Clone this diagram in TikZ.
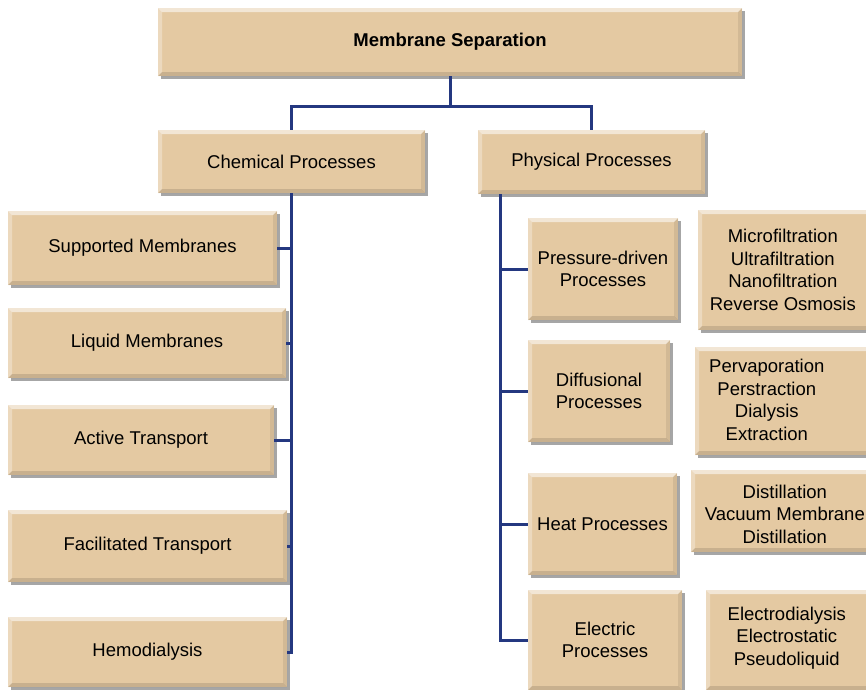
\documentclass[tikz,border=0pt]{standalone}
\usepackage{fontspec}
\setmainfont{Liberation Sans}
\usetikzlibrary{shadows}
\definecolor{Tan}{RGB}{228, 201, 162}
\definecolor{Navy}{RGB}{36, 56, 128}

\begin{document}
\begin{tikzpicture}[x=1pt, y=-1pt,
    box/.style={rectangle, fill=Tan, inner sep=2pt, align=center,
        drop shadow={shadow xshift=2.5pt, shadow yshift=-2.5pt, opacity=.35, fill=black},
        path picture={
            \fill[white, opacity=.55] (path picture bounding box.north west) -- (path picture bounding box.north east)
                -- ([xshift=-4pt, yshift=-4pt]path picture bounding box.north east) -- ([xshift=4pt, yshift=-4pt]path picture bounding box.north west) -- cycle;
            \fill[white, opacity=.3] (path picture bounding box.north west) -- (path picture bounding box.south west)
                -- ([xshift=4pt, yshift=4pt]path picture bounding box.south west) -- ([xshift=4pt, yshift=-4pt]path picture bounding box.north west) -- cycle;
            \fill[black, opacity=.12] (path picture bounding box.south west) -- (path picture bounding box.south east)
                -- ([xshift=-4pt, yshift=4pt]path picture bounding box.south east) -- ([xshift=4pt, yshift=4pt]path picture bounding box.south west) -- cycle;
            \fill[black, opacity=.08] (path picture bounding box.north east) -- (path picture bounding box.south east)
                -- ([xshift=-4pt, yshift=4pt]path picture bounding box.south east) -- ([xshift=-4pt, yshift=-4pt]path picture bounding box.north east) -- cycle;
        }},
    link/.style={draw=Navy, line width=3pt},
    font=\fontsize{18.5}{22.5}\selectfont
    ]
    \useasboundingbox (0,0) rectangle (866,689);
    \clip (0,0) rectangle (866,689);

    % top levels
    \node[box, minimum width=584, minimum height=68] (top) at (450,42) {\bfseries Membrane Separation};
    \node[box, minimum width=267, minimum height=63] (chem) at (291.5,161.5) {Chemical Processes};
    \node[box, minimum width=227, minimum height=64] (phys) at (591.5,162) {Physical Processes};

    % chemical processes
    \node[box, minimum width=269, minimum height=74] (sup) at (142.5,248) {Supported Membranes};
    \node[box, minimum width=278, minimum height=70] (liq) at (147,343) {Liquid Membranes};
    \node[box, minimum width=266, minimum height=70] (act) at (141,440) {Active Transport};
    \node[box, minimum width=279, minimum height=72] (fac) at (147.5,546) {Facilitated Transport};
    \node[box, minimum width=279, minimum height=70] (hemo) at (147.5,652) {Hemodialysis};

    % physical processes
    \node[box, minimum width=150, minimum height=102] (pres) at (603,269) {Pressure-driven\\Processes};
    \node[box, minimum width=142, minimum height=102] (diff) at (599,391) {Diffusional\\Processes};
    \node[box, minimum width=149, minimum height=102] (heat) at (602.5,524) {Heat Processes};
    \node[box, minimum width=154, minimum height=100] (elec) at (605,640) {Electric\\Processes};

    % examples, cut at the right edge
    \node[box, minimum width=190, minimum height=120] (presx) at (793,270) {};
    \node[align=center] (presxt) at ([xshift=85pt]presx.west) {Microfiltration\\Ultrafiltration\\Nanofiltration\\Reverse Osmosis};
    \node[box, minimum width=190, minimum height=108] (diffx) at (790,401) {};
    \node[align=center] (diffxt) at ([xshift=72pt, yshift=1pt]diffx.west) {Pervaporation\\Perstraction\\Dialysis\\Extraction};
    \node[box, minimum width=190, minimum height=82] (heatx) at (786,511) {};
    \node[align=center] (heatxt) at ([xshift=94pt, yshift=-3pt]heatx.west) {Distillation\\Vacuum Membrane\\Distillation};
    \node[box, minimum width=180, minimum height=100] (elecx) at (796,640) {};
    \node[align=center] (elecxt) at ([xshift=81pt, yshift=2pt]elecx.west) {Electrodialysis\\Electrostatic\\Pseudoliquid};

    % connectors
    \coordinate (split) at (450,106);
    \draw[link] (top.south) -- (split);
    \draw[link] (chem.north) |- (split) -| (phys.north);

    \draw[link] (chem.south) |- (hemo.east);
    \foreach \n in {sup, liq, act, fac}
        \draw[link] (\n.east -| chem.south) -- (\n.east);

    \coordinate (rtop) at ([xshift=23pt]phys.south west);
    \draw[link] (rtop) |- (elec.west);
    \foreach \n in {pres, diff, heat}
        \draw[link] (\n.west -| rtop) -- (\n.west);
\end{tikzpicture}
\end{document}
